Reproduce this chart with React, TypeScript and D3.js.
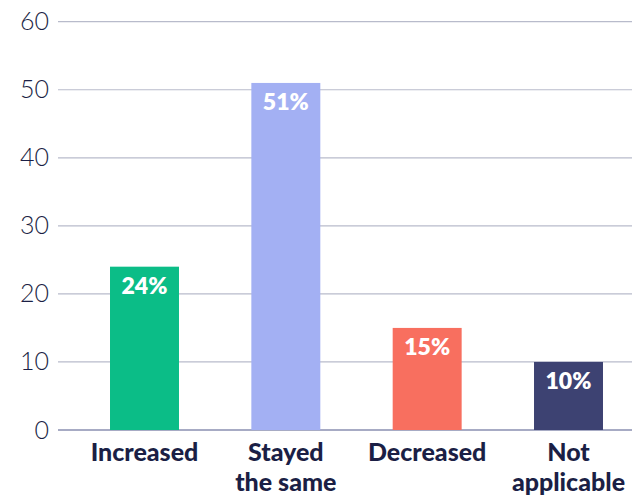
import React from "react";
import * as d3 from "d3";

const categories: string[][] = [["Increased"], ["Stayed", "the same"], ["Decreased"], ["Not", "applicable"]];
const values: number[] = [24, 51, 15, 10];
const valueLabels: string[] = ["24%", "51%", "15%", "10%"];
const barColors: string[] = ["#0bbd87", "#a3b0f3", "#f86f5f", "#3d4272"];
const yTicks: number[] = [0, 10, 20, 30, 40, 50, 60];

const W = 636;
const H = 499;

export default function App() {
  const y = d3.scaleLinear().domain([0, 60]).range([430, 21.7]);
  const x = d3
    .scaleBand<number>()
    .domain(values.map((_, i) => i))
    .range([58, 655])
    .paddingInner(0.512)
    .paddingOuter(0.368);
  const textColor = "#1b1f45";
  return (
    <svg
      width={W}
      height={H}
      style={{ position: "absolute", left: 0, top: 0 }}
      fontFamily="Lato, 'Open Sans', sans-serif"
    >
      {yTicks.map((t) => (
        <g key={t}>
          <line
            x1={58}
            x2={632}
            y1={y(t)}
            y2={y(t)}
            stroke={t === 0 ? "#8a8fb0" : "#b8bbcb"}
            strokeWidth={t === 0 ? 1.5 : 1.2}
          />
          <text
            x={49}
            y={y(t) + 8.5}
            textAnchor="end"
            fontSize={25}
            fontWeight={300}
            fill={textColor}
          >
            {t}
          </text>
        </g>
      ))}
      {values.map((v, i) => (
        <g key={i}>
          <rect
            x={x(i)}
            y={y(v)}
            width={x.bandwidth()}
            height={y(0) - y(v)}
            fill={barColors[i]}
          />
          <text
            x={(x(i) as number) + x.bandwidth() / 2}
            y={y(v) + 27.5}
            textAnchor="middle"
            fontSize={23}
            fontWeight={800}
            fill="#ffffff"
          >
            {valueLabels[i]}
          </text>
          <text
            x={(x(i) as number) + x.bandwidth() / 2}
            y={461}
            textAnchor="middle"
            fontSize={25}
            fontWeight={900}
            fill={textColor}
          >
            {categories[i].map((line, j) => (
              <tspan key={j} x={(x(i) as number) + x.bandwidth() / 2} dy={j === 0 ? 0 : 30}>
                {line}
              </tspan>
            ))}
          </text>
        </g>
      ))}
    </svg>
  );
}
